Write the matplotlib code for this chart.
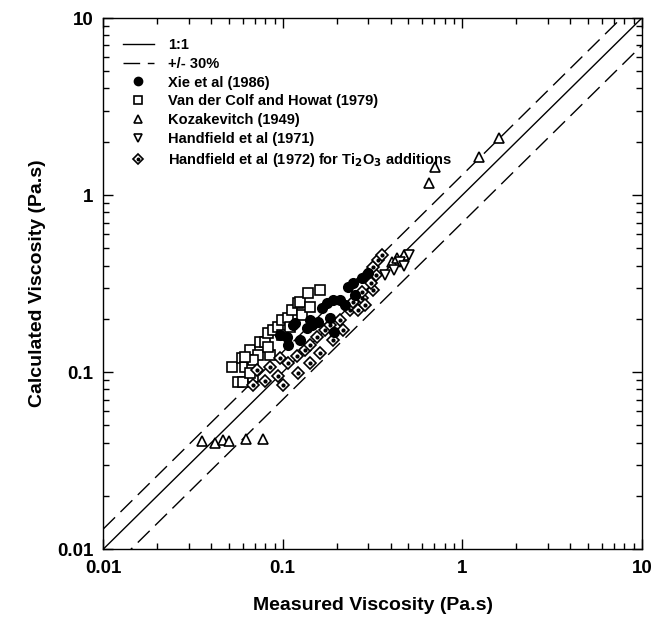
import matplotlib
matplotlib.use("Agg")
import matplotlib.pyplot as plt
import numpy as np
from matplotlib.legend_handler import HandlerTuple
from matplotlib.lines import Line2D
from matplotlib.ticker import FixedLocator, LogLocator, NullFormatter

plt.rcParams["font.family"] = ["Liberation Sans", "DejaVu Sans"]
plt.rcParams["font.weight"] = "bold"

# Xie et al (1986), filled circles
XIE_X = [0.0962, 0.1052, 0.1137, 0.1166, 0.1066, 0.1242, 0.1359, 0.1449,
         0.1565, 0.1647, 0.1755, 0.1897, 0.2073, 0.2296, 0.2449, 0.278,
         0.2966, 0.194, 0.1824, 0.1413, 0.2512, 0.221]
XIE_Y = [0.1618, 0.1577, 0.1843, 0.1892, 0.1421, 0.1517, 0.1773, 0.1843,
         0.1917, 0.2301, 0.2454, 0.2551, 0.2551, 0.302, 0.3184, 0.3398,
         0.3625, 0.168, 0.2018, 0.1967, 0.2723, 0.2392]

# Van der Colf and Howat (1979), open squares
VDC_X = [0.0521, 0.0562, 0.0600, 0.0592, 0.0615, 0.0656, 0.0672, 0.0681,
         0.0726, 0.0745, 0.0794, 0.0826, 0.0847, 0.0880, 0.0938, 0.0987,
         0.0987, 0.1066, 0.1093, 0.1122, 0.1211, 0.1242, 0.1275, 0.1376,
         0.1413, 0.1606, 0.0826, 0.0681, 0.0656, 0.0615]
VDC_Y = [0.1067, 0.0878, 0.0878, 0.1200, 0.1067, 0.1330, 0.1054, 0.0937,
         0.1247, 0.1477, 0.1477, 0.1660, 0.1247, 0.1727, 0.1796, 0.1967,
         0.1618, 0.2018, 0.1796, 0.2240, 0.2454, 0.2485, 0.2099, 0.2795,
         0.2330, 0.2907, 0.1384, 0.1170, 0.0987, 0.1216]

# Kozakevitch (1949), open triangles up
KOZ_X = [0.0355, 0.0419, 0.0464, 0.0501, 0.0623, 0.0774, 0.656, 0.708,
         1.24, 1.61, 0.404, 0.435, 0.476]
KOZ_Y = [0.0407, 0.0397, 0.0413, 0.0407, 0.0418, 0.0418, 1.17, 1.44,
         1.64, 2.10, 0.418, 0.440, 0.458]

# Handfield et al (1971), open triangles down
H71_X = [0.447, 0.476, 0.508, 0.419, 0.369]
H71_Y = [0.418, 0.397, 0.458, 0.377, 0.353]

# Handfield et al (1972) for Ti2O3 additions, dotted diamonds
H72_X = [0.0681, 0.0794, 0.0938, 0.1000, 0.1066, 0.1196, 0.1211, 0.1413,
         0.1324, 0.1606, 0.1413, 0.1545, 0.1710, 0.1897, 0.1824, 0.2073,
         0.2356, 0.2449, 0.2748, 0.2780, 0.3162, 0.3120, 0.3327, 0.3162,
         0.3373, 0.3594, 0.2154, 0.2610, 0.2857, 0.0717, 0.0847, 0.0962]
H72_Y = [0.0845, 0.0890, 0.0949, 0.0845, 0.1124, 0.1232, 0.0987, 0.1124,
         0.1330, 0.1280, 0.1421, 0.1577, 0.1727, 0.1517, 0.1843, 0.1967,
         0.2240, 0.2485, 0.2618, 0.2831, 0.2907, 0.3184, 0.3532, 0.3919,
         0.4295, 0.4581, 0.1727, 0.2240, 0.2392, 0.1026, 0.1067, 0.1200]

BAND = 0.3
MAJOR_TICKS = [0.01, 0.1, 1, 10]
MAJOR_LABELS = ["0.01", "0.1", "1", "10"]


def main() -> None:
    figure = plt.figure(figsize=(6.7, 6.22), dpi=100)
    axis = figure.add_axes((0.154, 0.117, 0.804, 0.854))

    ref = np.array([0.01, 10.0])
    (line_one,) = axis.plot(ref, ref, color="black", linewidth=1.0)
    (line_band,) = axis.plot(ref, ref * (1 + BAND), color="black",
                             linewidth=1.0, dashes=(12, 5.5))
    axis.plot(ref, ref * (1 - BAND), color="black", linewidth=1.0,
              dashes=(12, 5.5))

    marker_kw = dict(linestyle="none", markeredgewidth=1.2,
                     markeredgecolor="black")
    axis.plot(VDC_X, VDC_Y, marker="s", markersize=7.2,
              markerfacecolor="white", **marker_kw)
    axis.plot(KOZ_X, KOZ_Y, marker="^", markersize=7.5,
              markerfacecolor="white", **marker_kw)
    axis.plot(H71_X, H71_Y, marker="v", markersize=7.5,
              markerfacecolor="white", **marker_kw)
    axis.plot(H72_X, H72_Y, marker="D", markersize=6.3,
              markerfacecolor="white", **marker_kw)
    axis.plot(H72_X, H72_Y, marker="o", linestyle="none", markersize=2.0,
              color="black")
    axis.plot(XIE_X, XIE_Y, marker="o", markersize=6.8,
              markerfacecolor="black", **marker_kw)

    # legend handles
    h_xie = Line2D([], [], marker="o", markersize=5.8, markerfacecolor="black",
                   **marker_kw)
    h_vdc = Line2D([], [], marker="s", markersize=5.8, markerfacecolor="white",
                   **marker_kw)
    h_koz = Line2D([], [], marker="^", markersize=6.2, markerfacecolor="white",
                   **marker_kw)
    h_h71 = Line2D([], [], marker="v", markersize=6.2, markerfacecolor="white",
                   **marker_kw)
    h_h72a = Line2D([], [], marker="D", markersize=5.5, markerfacecolor="white",
                    **marker_kw)
    h_h72b = Line2D([], [], marker="o", markersize=1.8, color="black",
                    linestyle="none")
    axis.legend(
        [line_one, line_band, h_xie, h_vdc, h_koz, h_h71, (h_h72a, h_h72b)],
        ["1:1", "+/- 30%", "Xie et al (1986)", "Van der Colf and Howat (1979)",
         "Kozakevitch (1949)", "Handfield et al (1971)",
         "Handfield et al (1972) for Ti$_\\mathbf{2}$O$_\\mathbf{3}$ additions"],
        handler_map={tuple: HandlerTuple(ndivide=1)},
        loc="upper left",
        bbox_to_anchor=(0.01, 0.99),
        frameon=False,
        handlelength=2.1,
        handletextpad=1.0,
        labelspacing=0.33,
        borderaxespad=0.6,
        prop={"weight": "bold", "size": 10.5},
    )

    axis.set_xscale("log")
    axis.set_yscale("log")
    axis.set_xlim(0.01, 10)
    axis.set_ylim(0.01, 10)
    for ax_ in (axis.xaxis, axis.yaxis):
        ax_.set_major_locator(FixedLocator(MAJOR_TICKS))
        ax_.set_minor_locator(LogLocator(base=10, subs=np.arange(2, 10)))
        ax_.set_minor_formatter(NullFormatter())
    axis.set_xticks(MAJOR_TICKS, MAJOR_LABELS)
    axis.set_yticks(MAJOR_TICKS, MAJOR_LABELS)

    axis.tick_params(which="both", direction="in", top=True, right=True,
                     width=1.0)
    axis.tick_params(which="major", length=7, labelsize=13.5)
    axis.tick_params(which="minor", length=4)
    axis.tick_params(axis="x", which="major", pad=8)
    axis.tick_params(axis="y", which="major", pad=7)
    for label in axis.get_xticklabels() + axis.get_yticklabels():
        label.set_fontweight("bold")
    for spine in axis.spines.values():
        spine.set_linewidth(1.0)

    axis.set_xlabel("Measured Viscosity (Pa.s)", fontsize=14,
                    fontweight="bold", labelpad=14)
    axis.set_ylabel("Calculated Viscosity (Pa.s)", fontsize=14,
                    fontweight="bold", labelpad=8)

    figure.savefig("out.png", dpi=100)
    plt.close(figure)


if __name__ == "__main__":
    main()
